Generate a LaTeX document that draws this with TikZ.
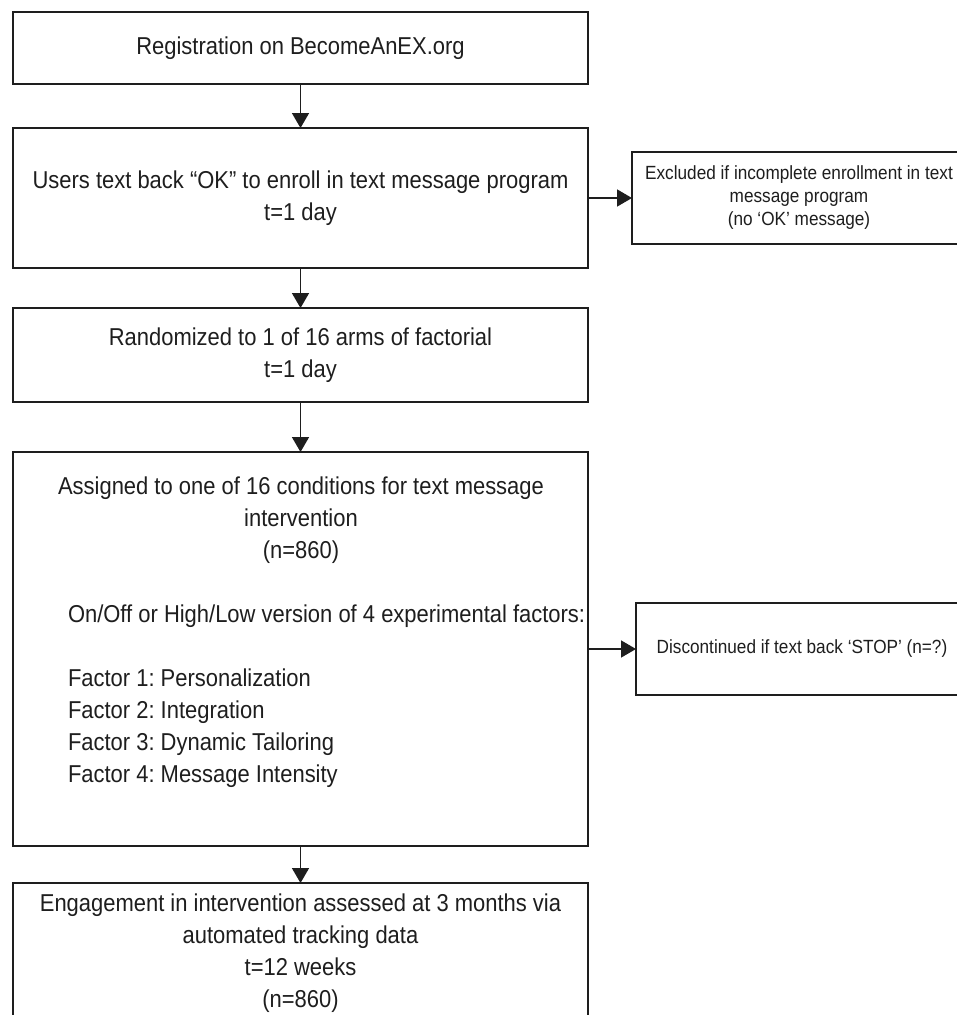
\documentclass[tikz,border=0pt]{standalone}
\usepackage{fontspec}
\setmainfont{Liberation Sans}[FakeStretch=0.9]
\usetikzlibrary{arrows.meta}
\definecolor{ink}{HTML}{1E1E1E}
\frenchspacing
\tikzset{
  box/.style={draw=ink, line width=1.9pt, rectangle, inner sep=0pt, outer sep=0pt,
    align=center, text=ink, font=\fontsize{24.4}{32}\selectfont},
  sidebox/.style={box, font=\fontsize{19.1}{23}\selectfont},
  txt/.style={inner sep=0pt, outer sep=0pt, text=ink, font=\fontsize{24.4}{32}\selectfont},
  arr/.style={draw=ink, line width=1.6pt, -{Triangle[length=15pt,width=17pt]}},
}
\begin{document}
\frenchspacing
\begin{tikzpicture}[x=1pt,y=-1pt]
\useasboundingbox (0,0) rectangle (957,1015);
\clip (0,0) rectangle (957,1015);
\fill[white] (0,0) rectangle (957,1015);
% main column
\node[box, minimum width=575pt, minimum height=72pt] (b1) at (300.5,48) {Registration on BecomeAnEX.org};
\node[box, minimum width=575pt, minimum height=140pt] (b2) at (300.5,198) {Users text back “OK” to enroll in text message program\\t=1 day};
\node[box, minimum width=575pt, minimum height=94pt] (b3) at (300.5,355) {Randomized to 1 of 16 arms of factorial\\t=1 day};
\node[box, minimum width=575pt, minimum height=394pt] (b4) at (300.5,649) {};
\node[box, minimum width=575pt, minimum height=140pt] (b5) at (300.5,953) {Engagement in intervention assessed at 3 months via\\automated tracking data\\t=12 weeks\\(n=860)};
% text inside box 4
\node[txt, align=center] (b4top) at (301,520.5) {Assigned to one of 16 conditions for text message\\intervention\\(n=860)};
\node[txt, align=left, anchor=north west] (b4list) at (68,605) {On/Off or High/Low version of 4 experimental factors:\\[32pt]Factor 1: Personalization\\Factor 2: Integration\\Factor 3: Dynamic Tailoring\\Factor 4: Message Intensity};
% side boxes
\node[sidebox, minimum width=334pt, minimum height=92pt] (ex) at (799,198) {Excluded if incomplete enrollment in text\\message program\\(no ‘OK’ message)};
\node[sidebox, minimum width=332pt, minimum height=92pt] (st) at (802,649) {Discontinued if text back ‘STOP’ (n=?)};
% connectors
\draw[arr] (b1.south) -- (b2.north);
\draw[arr] (b2.south) -- (b3.north);
\draw[arr] (b3.south) -- (b4.north);
\draw[arr] (b4.south) -- (b5.north);
\draw[arr] (b2.east) -- (ex.west);
\draw[arr] (b4.east) -- (st.west);
\end{tikzpicture}
\end{document}
